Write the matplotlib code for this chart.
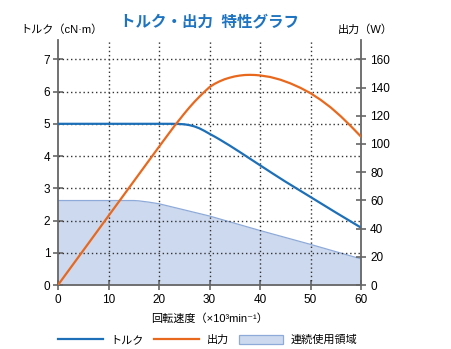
import matplotlib
matplotlib.use("Agg")
import matplotlib.pyplot as plt
from matplotlib.lines import Line2D
from matplotlib.patches import Patch

plt.rcParams['font.family'] = ['Liberation Sans', 'Noto Sans CJK JP', 'DejaVu Sans']

# Data
speed_torque = [0, 5, 10, 15, 20, 22.5, 24, 25, 26, 27, 28, 29, 30, 31, 32, 33, 34, 35,
                36, 38, 40, 42.5, 45, 47.5, 50, 52.5, 55, 57.5, 60]
torque = [5.0, 5.0, 5.0, 5.0, 5.0, 5.0, 4.995, 4.985, 4.96, 4.92, 4.86, 4.78, 4.69, 4.605,
          4.515, 4.42, 4.325, 4.225, 4.125, 3.92, 3.715, 3.46, 3.21, 2.97, 2.73, 2.49, 2.25,
          2.015, 1.78]

speed_power = [0, 5, 10, 15, 20, 23, 24, 25, 26, 27, 28, 29, 30, 31, 32, 33, 34, 35, 36,
               37, 38, 39, 40, 42, 44, 46, 48, 50, 52, 54, 56, 58, 60]
power = [0, 24.5, 49, 73.5, 98, 112.5, 117, 121.5, 125.8, 129.8, 133.5, 137, 140.3, 142.6,
         144.4, 145.9, 147.0, 147.9, 148.5, 148.9, 149.0, 148.9, 148.6, 147.5, 145.6, 143.0,
         139.8, 136.0, 131.3, 125.9, 119.6, 112.6, 105.2]

speed_cont = [0, 15, 16, 17, 18, 19, 20, 30, 40, 50, 60]
cont_torque = [2.62, 2.62, 2.61, 2.59, 2.57, 2.545, 2.52, 2.14, 1.69, 1.26, 0.81]

x_ticks = [0, 10, 20, 30, 40, 50, 60]
left_ticks = [0, 1, 2, 3, 4, 5, 6, 7]
right_ticks = [0, 20, 40, 60, 80, 100, 120, 140, 160]

title = "トルク・出力  特性グラフ"
left_label = "トルク（cN·m）"
right_label = "出力（W）"
x_label = "回転速度（×10³min⁻¹）"
legend_labels = ["トルク", "出力", "連続使用領域"]

blue = "#1d70b7"
orange = "#e8691e"
fill_c = "#cdd9ee"
edge_c = "#8eaad8"
spine_c = "#666666"
grid_c = "#333333"

fig = plt.figure(figsize=(4.51, 3.49), dpi=100)
ax = fig.add_axes([58/451, 1-285/349, (361-58)/451, (285-40)/349])
ax2 = ax.twinx()

ymax = 7.6
ax.set_xlim(0, 60)
ax.set_ylim(0, ymax)
ax2.set_ylim(0, ymax * 160 / 7)

ax.fill_between(speed_cont, 0, cont_torque, color=fill_c, lw=0, zorder=1)
ax.plot(speed_cont, cont_torque, color=edge_c, lw=0.9, zorder=2)

for y in left_ticks[1:]:
    ax.plot([0, 60], [y, y], color=grid_c, ls=(0, (1, 2)), lw=1.0, zorder=2.5)
for x in x_ticks[1:-1]:
    ax.plot([x, x], [0, ymax], color=grid_c, ls=(0, (1, 2)), lw=1.0, zorder=2.5)

ax.plot(speed_torque, torque, color=blue, lw=1.6, zorder=3)
ax2.plot(speed_power, power, color=orange, lw=1.6, zorder=3)

for a in (ax, ax2):
    a.spines['top'].set_visible(False)
    for s in ('left', 'right', 'bottom'):
        a.spines[s].set_color(spine_c)
        a.spines[s].set_linewidth(1.3)
ax.spines['right'].set_visible(False)
ax2.spines['left'].set_visible(False)
ax2.spines['bottom'].set_visible(False)

ax.set_xticks(x_ticks)
ax.set_yticks(left_ticks)
ax2.set_yticks(right_ticks)
ax.tick_params(axis='both', direction='inout', length=7, width=1.2, color=spine_c,
               labelsize=8.5, pad=2)
ax.tick_params(axis='x', pad=3)
ax2.tick_params(axis='y', direction='inout', length=7, width=1.2, color=spine_c,
                labelsize=8.5, pad=3)

fig.text(210/451, 1-22/349, title, ha='center', va='center', fontsize=11.2,
         fontweight='bold', color="#1e74c0")
fig.text(20/451, 1-30/349, left_label, ha='left', va='center', fontsize=8)
fig.text(338/451, 1-30/349, right_label, ha='left', va='center', fontsize=8)
fig.text(210/451, 1-319/349, x_label, ha='center', va='center', fontsize=8)

handles = [Line2D([], [], color=blue, lw=1.6),
           Line2D([], [], color=orange, lw=1.6),
           Patch(facecolor=fill_c, edgecolor=edge_c, lw=0.9)]
fig.legend(handles, legend_labels, loc='center', bbox_to_anchor=(208/451, 1-340/349),
           ncol=3, frameon=False, fontsize=8, handlelength=4, handleheight=0.9,
           columnspacing=0.9, handletextpad=0.7)

fig.savefig("out.png", dpi=100)
